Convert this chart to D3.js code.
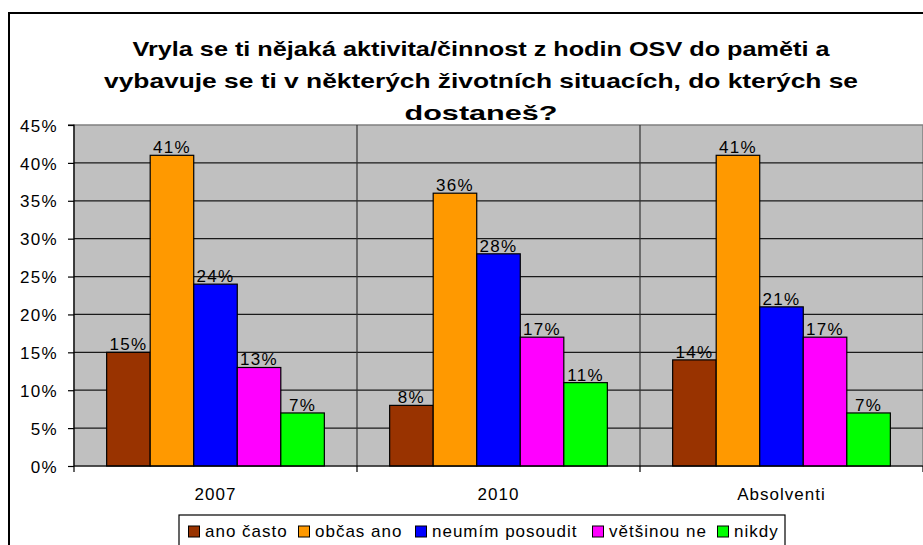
<!DOCTYPE html>
<html><head><meta charset="utf-8">
<script src="https://cdn.jsdelivr.net/npm/d3@7"></script>
<style>
body{margin:0;background:#fff;}
svg{display:block;font-family:Arial,"Liberation Sans",sans-serif;}
</style></head>
<body><svg id="c" width="923" height="545"></svg>
<script>
const categories = ["2007", "2010", "Absolventi"];
const seriesNames = ["ano často", "občas ano", "neumím posoudit", "většinou ne", "nikdy"];
const seriesColors = ["#993300", "#FF9900", "#0000FF", "#FF00FF", "#00FF00"];
const anoCasto = [15, 8, 14];
const obcasAno = [41, 36, 41];
const neumimPosoudit = [24, 28, 21];
const vetsinouNe = [13, 17, 17];
const nikdy = [7, 11, 7];
const yTicks = [0, 5, 10, 15, 20, 25, 30, 35, 40, 45];
const titleLines = ["Vryla se ti nějaká aktivita/činnost z hodin OSV do paměti a",
  "vybavuje se ti v některých životních situacích, do kterých se",
  "dostaneš?"];

const seriesValues = [anoCasto, obcasAno, neumimPosoudit, vetsinouNe, nikdy];
const svg = d3.select("#c");
const FS = 17, LS = 1.3;

// outer border
svg.append("rect").attr("x", 9).attr("y", 13).attr("width", 930).attr("height", 560)
  .attr("fill", "#fff").attr("stroke", "#000").attr("stroke-width", 2);

const L = 74, R = 923, T = 125, B = 466;
const x0 = d3.scaleBand().domain(categories).range([L, R]).paddingInner(0).paddingOuter(0);
const gw = x0.bandwidth();
const x1 = d3.scaleBand().domain(d3.range(5)).range([0, gw]).paddingInner(0).paddingOuter(0.75);
const y = d3.scaleLinear().domain([0, 45]).range([B, T]);

// plot background
svg.append("rect").attr("x", L).attr("y", T).attr("width", R - L).attr("height", B - T)
  .attr("fill", "#C0C0C0").attr("stroke", "#808080").attr("stroke-width", 1.5);

// gridlines
svg.append("g").selectAll("line").data(yTicks.filter(d => d > 0 && d < 45)).join("line")
  .attr("x1", L).attr("x2", R).attr("y1", d => y(d)).attr("y2", d => y(d))
  .attr("stroke", "#1a1a1a").attr("stroke-width", 1.2);
// vertical separators
svg.append("g").selectAll("line").data(categories.slice(1)).join("line")
  .attr("x1", d => x0(d)).attr("x2", d => x0(d)).attr("y1", T).attr("y2", B)
  .attr("stroke", "#333").attr("stroke-width", 1.2);

// bars
const groups = svg.append("g").selectAll("g").data(categories).join("g")
  .attr("transform", d => `translate(${x0(d)},0)`);
groups.selectAll("rect").data((c, ci) => seriesValues.map((s, si) => ({si, v: s[ci]}))).join("rect")
  .attr("x", d => x1(d.si)).attr("width", x1.bandwidth())
  .attr("y", d => y(d.v)).attr("height", d => B - y(d.v))
  .attr("fill", d => seriesColors[d.si]).attr("stroke", "#000").attr("stroke-width", 1.2);
groups.selectAll("text").data((c, ci) => seriesValues.map((s, si) => ({si, v: s[ci]}))).join("text")
  .attr("x", d => x1(d.si) + x1.bandwidth() / 2).attr("y", d => y(d.v) - 2)
  .attr("text-anchor", "middle").attr("font-size", FS).attr("letter-spacing", LS)
  .attr("fill", "#000").text(d => d.v + "%");

// y axis
const yAxis = d3.axisLeft(y).tickValues(yTicks).tickFormat(d => d + "%").tickSize(6).tickPadding(10);
const ya = svg.append("g").attr("transform", `translate(${L},0)`).call(yAxis);
ya.select(".domain").attr("stroke", "#000").attr("stroke-width", 1.2).attr("d", `M-6,${T}H0V${B}`);
ya.selectAll("line").attr("stroke", "#000").attr("stroke-width", 1.2);
ya.selectAll("text").attr("font-size", FS).attr("letter-spacing", LS).attr("fill", "#000")
  .attr("font-family", "Arial,'Liberation Sans',sans-serif").attr("dy", "0.36em");

// x axis
const xa = svg.append("g").attr("transform", `translate(0,${B})`);
xa.append("line").attr("x1", L).attr("x2", R).attr("stroke", "#000").attr("stroke-width", 1.2);
xa.selectAll("line.t").data(categories.concat(["end"])).join("line").attr("class", "t")
  .attr("x1", (d, i) => i < 3 ? x0(d) : R).attr("x2", (d, i) => i < 3 ? x0(d) : R)
  .attr("y1", 0).attr("y2", 6).attr("stroke", "#000").attr("stroke-width", 1.2);
xa.selectAll("text").data(categories).join("text")
  .attr("x", d => x0(d) + gw / 2).attr("y", 34).attr("text-anchor", "middle")
  .attr("font-size", FS).attr("letter-spacing", 1).attr("fill", "#000").text(d => d);

// title
const titleW = [697, 754, 153];
svg.append("g").selectAll("text").data(titleLines).join("text")
  .attr("x", 481).attr("y", (d, i) => 56 + i * 32).attr("text-anchor", "middle")
  .attr("font-size", 21).attr("font-weight", "bold").attr("fill", "#000")
  .attr("textLength", (d, i) => titleW[i]).attr("lengthAdjust", "spacingAndGlyphs")
  .text(d => d);

// legend
const lg = svg.append("g");
lg.append("rect").attr("x", 179).attr("y", 515).attr("width", 606).attr("height", 40)
  .attr("fill", "#fff").attr("stroke", "#000").attr("stroke-width", 1.2);
const itemX = [188, 298, 415, 592, 717];
const items = lg.selectAll("g").data(seriesNames).join("g")
  .attr("transform", (d, i) => `translate(${itemX[i]},0)`);
items.append("rect").attr("x", 0.5).attr("y", 526).attr("width", 11).attr("height", 11)
  .attr("fill", (d, i) => seriesColors[i]).attr("stroke", "#000").attr("stroke-width", 1);
items.append("text").attr("x", 17).attr("y", 537).attr("font-size", FS).attr("letter-spacing", 1)
  .attr("fill", "#000").text(d => d);
</script></body></html>
